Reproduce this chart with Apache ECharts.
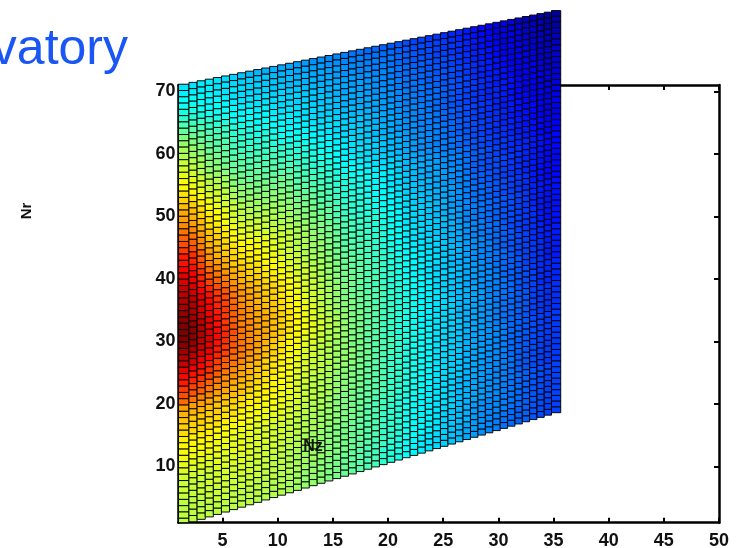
<!DOCTYPE html>
<html><head><meta charset="utf-8"><style>html,body{margin:0;padding:0;background:#fff}#c{width:738px;height:548px}</style>
<script src="https://cdn.jsdelivr.net/npm/echarts@6/dist/echarts.min.js"></script></head><body><div id="c"></div>
<script>
const nzTicks=[5,10,15,20,25,30,35,40,45,50];
const nrTicks=[10,20,30,40,50,60,70];
const heat=[
[35,35,36,36,35,34,33,32,31,31,30,30,29,29,28,28,27,27,26,26,25,24,24,23,23,22,21,21,20,19,19,18,18,17,16,16,15,14,13,12,11,10,9,8,6,5,4,3,3],
[36,36,36,36,35,35,34,33,33,32,32,31,30,30,29,29,28,28,27,27,26,25,25,24,24,23,23,22,21,20,20,19,19,18,17,16,15,14,13,12,11,10,9,8,7,6,5,4,4],
[38,38,37,37,36,35,35,34,33,33,32,32,31,31,30,30,29,29,28,28,27,26,26,25,25,24,24,23,22,21,20,20,19,18,18,17,16,15,14,13,12,11,10,9,8,7,5,4,4],
[39,39,38,37,37,36,35,34,34,33,33,32,32,31,31,30,30,29,29,28,27,27,26,26,25,25,24,23,22,21,21,20,19,19,18,17,16,15,14,13,12,11,10,9,8,7,6,5,5],
[40,40,39,38,38,37,36,35,35,34,34,33,33,32,32,31,31,30,30,29,28,28,27,27,26,26,25,24,23,22,22,21,20,20,19,18,17,16,15,14,13,12,11,10,9,8,7,6,6],
[42,41,40,39,39,38,37,36,36,35,35,34,34,33,33,32,32,31,30,30,29,28,28,27,27,26,25,24,23,23,22,21,21,20,19,18,17,16,15,14,13,12,11,10,9,8,7,6,6],
[45,44,43,42,40,39,38,37,37,36,36,35,34,34,33,33,32,32,31,30,29,29,28,28,27,26,26,25,24,23,23,22,21,21,20,19,18,17,16,15,14,13,12,11,10,9,8,7,7],
[47,46,45,43,42,41,39,38,38,37,37,36,35,35,34,34,33,32,32,31,30,29,29,28,27,27,26,25,24,24,23,22,22,21,20,19,18,17,16,15,14,13,12,11,10,9,8,7,7],
[50,48,47,45,44,43,41,40,39,38,38,37,36,36,35,34,34,33,32,31,30,30,29,29,28,27,27,26,25,24,24,23,22,21,21,20,19,17,16,15,15,14,13,12,11,10,9,8,8],
[52,50,48,46,45,44,42,41,40,39,39,38,37,36,36,35,34,33,33,32,31,31,30,29,29,28,27,26,25,25,24,23,23,22,21,20,19,18,17,16,15,14,13,12,11,10,9,8,8],
[54,52,50,47,46,45,43,42,41,40,40,39,38,37,37,36,35,34,34,33,32,31,31,30,29,28,28,27,25,25,24,24,23,22,21,20,19,18,17,16,15,15,14,13,12,11,10,9,9],
[55,53,51,48,47,46,44,43,42,41,41,40,39,38,38,37,36,35,35,34,33,32,32,31,30,29,28,27,26,26,25,24,23,22,21,20,19,18,17,16,16,15,14,13,12,11,10,9,9],
[57,55,53,50,49,47,45,44,43,42,42,41,40,39,39,38,37,36,35,34,33,33,32,31,30,29,29,28,26,26,25,24,23,22,21,20,19,18,17,16,16,15,14,13,12,11,10,9,9],
[58,56,54,51,50,48,46,45,44,44,43,43,42,41,40,39,38,37,36,35,34,33,33,32,31,30,29,28,27,26,25,25,24,23,22,21,20,19,18,17,16,15,14,13,13,12,11,10,10],
[60,58,55,52,51,49,47,46,45,45,44,44,43,42,41,40,39,38,37,36,35,34,33,32,31,30,29,28,27,27,26,25,24,23,22,21,20,19,18,17,16,15,15,14,13,12,11,10,10],
[62,60,57,54,53,51,48,47,46,46,45,45,44,43,42,41,40,39,38,37,36,35,34,33,32,31,30,29,28,27,26,25,25,24,23,22,21,19,18,17,17,16,15,14,13,13,12,11,11],
[63,61,59,56,55,53,50,48,47,47,46,46,45,44,43,42,41,40,39,38,36,35,35,34,33,32,31,30,28,27,27,26,25,24,23,22,21,20,19,18,17,16,15,14,14,13,12,11,11],
[65,63,60,57,56,54,51,49,48,48,47,47,46,45,44,43,42,41,40,38,37,36,35,34,33,32,31,30,29,28,27,26,25,24,23,22,21,20,19,18,17,16,16,15,14,13,12,11,11],
[67,65,62,59,58,56,53,51,50,49,49,48,48,47,45,44,43,42,41,39,38,37,36,35,34,33,32,31,29,28,27,26,25,25,24,23,22,20,19,18,17,17,16,15,14,14,13,12,12],
[69,67,64,61,59,57,54,52,51,50,50,49,49,48,46,45,44,43,42,40,39,38,37,36,35,34,33,32,30,29,28,27,26,25,24,23,22,21,20,19,18,17,16,15,15,14,13,12,12],
[71,69,66,62,60,58,56,53,52,52,51,51,50,49,47,46,45,44,43,41,40,39,38,37,36,35,34,33,31,30,29,28,27,26,25,24,23,21,20,19,18,18,17,16,15,14,13,12,12],
[72,70,67,64,62,60,57,55,54,53,52,52,51,50,48,47,46,45,44,42,41,40,39,38,37,36,35,33,31,31,30,29,28,27,26,25,23,22,21,20,19,18,17,16,16,15,14,13,13],
[74,72,69,65,63,61,58,56,55,54,54,53,52,51,49,48,47,46,45,43,41,40,39,38,37,36,35,34,32,31,30,29,28,27,26,25,24,22,21,20,19,18,17,17,16,15,14,13,13],
[76,74,70,66,64,62,59,57,56,55,55,54,53,52,50,49,48,46,45,43,41,41,40,39,38,37,35,34,32,31,30,29,29,28,27,26,24,22,21,20,20,19,18,17,16,15,14,13,13],
[78,76,72,68,66,64,61,59,58,57,56,55,54,53,51,50,49,47,46,44,42,41,40,39,38,37,36,35,33,32,31,30,29,28,27,26,24,22,21,20,20,19,18,17,16,15,14,13,13],
[80,78,74,69,67,65,62,60,59,58,57,56,55,54,52,51,50,48,47,45,43,42,41,40,39,38,37,35,33,32,31,30,29,28,27,26,25,23,22,21,20,19,18,17,16,15,14,13,13],
[82,80,75,70,68,66,63,61,60,59,58,57,56,55,53,52,50,49,47,45,43,42,41,40,39,38,37,36,34,33,32,31,30,29,28,26,25,23,22,21,20,19,18,17,16,15,14,13,13],
[85,83,78,72,69,67,65,63,62,61,60,58,57,56,54,53,51,50,48,46,44,43,42,41,40,39,38,36,34,33,32,31,30,29,28,27,25,24,23,22,21,20,19,18,17,15,14,13,13],
[86,84,79,73,70,68,66,64,63,62,61,59,58,57,55,54,52,50,49,47,45,44,43,42,41,40,38,37,35,34,33,32,31,30,28,27,25,24,23,22,21,20,19,18,17,15,14,13,13],
[88,86,81,75,72,70,67,65,64,63,61,60,58,57,55,54,52,51,49,47,45,44,43,42,41,40,38,37,35,34,33,32,31,30,28,27,26,24,23,22,21,20,19,18,17,16,15,14,14],
[90,88,83,77,74,71,68,66,65,64,62,61,59,58,56,55,53,52,50,48,46,45,44,43,41,40,39,37,35,34,33,32,31,30,29,28,26,25,24,23,22,21,20,19,18,16,15,14,14],
[91,89,84,79,76,73,70,68,66,65,63,62,60,58,57,55,53,52,50,48,46,45,44,43,42,41,39,38,36,35,34,33,32,31,29,28,26,25,24,23,22,21,20,19,18,16,15,14,14],
[93,91,86,81,78,75,71,69,67,66,64,63,61,59,58,56,54,53,51,49,47,46,45,44,42,41,39,38,36,35,34,33,32,31,30,28,26,25,24,23,22,21,20,19,18,16,15,14,14],
[94,92,88,84,80,77,73,70,68,67,65,64,62,60,58,57,55,53,51,49,47,46,45,44,42,41,40,38,36,35,34,33,32,31,30,29,27,26,25,23,22,21,20,19,18,17,15,14,14],
[95,94,90,86,82,79,75,72,70,68,66,65,63,61,59,58,56,54,52,50,48,47,46,44,43,42,40,39,37,36,35,34,33,31,30,29,27,26,25,24,23,21,20,19,18,17,15,14,14],
[96,95,91,87,83,80,76,73,71,69,67,66,64,62,60,58,56,54,52,50,48,47,46,45,43,42,41,39,37,36,35,34,33,32,30,29,27,26,25,24,23,22,20,19,18,17,15,14,14],
[98,96,92,88,84,81,77,73,72,70,68,67,65,63,61,59,57,55,53,51,49,48,47,45,44,43,41,40,38,37,36,35,33,32,31,30,28,27,26,24,23,22,21,19,18,17,16,14,14],
[99,97,93,89,85,82,78,74,72,70,68,67,65,63,61,59,57,55,53,51,49,48,47,45,44,43,41,40,38,37,36,35,34,32,31,30,28,27,26,25,23,22,21,20,19,17,16,15,15],
[100,98,94,90,86,82,78,75,73,71,69,68,66,64,62,60,58,56,54,52,50,49,47,46,45,43,42,40,38,37,36,35,34,33,31,30,28,27,26,25,23,22,21,20,19,17,16,15,15],
[100,99,95,90,86,82,78,75,73,71,70,68,66,64,62,60,58,56,54,52,50,48,47,45,44,43,41,40,38,37,36,35,33,32,31,30,29,27,26,25,24,23,21,20,19,18,17,15,15],
[100,99,95,91,87,83,79,75,74,72,71,69,67,65,63,61,59,56,54,52,50,49,48,46,45,44,42,41,39,38,37,35,34,33,32,31,29,28,27,25,24,23,22,20,19,18,17,15,15],
[99,98,94,91,87,84,80,76,74,72,71,69,67,65,63,61,59,57,55,53,51,50,48,47,45,44,42,41,39,38,37,36,34,33,32,31,29,28,27,26,24,23,22,21,19,18,17,15,15],
[97,96,93,90,86,83,79,76,74,72,71,69,67,65,63,61,59,57,55,53,51,50,48,47,45,44,42,41,39,38,37,36,34,33,32,31,29,28,27,26,24,23,22,21,19,18,17,15,15],
[95,94,91,89,85,82,79,76,74,72,71,69,67,65,63,62,60,58,56,54,52,50,49,47,46,44,43,41,40,38,37,36,35,33,32,31,29,28,27,26,25,23,22,21,20,18,17,16,16],
[93,92,89,87,84,81,78,76,74,72,70,68,66,64,63,61,59,58,56,54,52,50,49,47,46,44,43,41,40,39,37,36,35,34,32,31,30,29,27,26,25,24,22,21,20,19,17,16,16],
[90,89,87,85,82,79,77,75,73,71,69,67,65,63,62,60,59,57,55,54,52,50,49,47,46,44,43,41,40,39,37,36,35,34,33,31,30,29,28,26,25,24,23,21,20,19,17,16,16],
[87,86,85,83,80,78,76,74,72,71,69,67,65,63,62,60,59,57,55,54,52,50,49,47,46,44,43,41,40,39,37,36,35,34,33,31,30,29,28,26,25,24,23,21,20,19,17,16,16],
[85,84,83,81,78,76,74,72,70,69,67,66,64,62,61,59,58,56,55,53,52,50,49,47,46,44,43,41,40,39,37,36,35,34,33,31,30,29,28,27,25,24,23,22,21,19,18,17,17],
[82,81,80,78,76,74,73,71,70,68,67,65,64,62,61,59,58,56,55,53,52,50,49,47,46,44,43,41,40,39,37,36,35,34,33,31,30,29,28,27,25,24,23,22,21,19,18,17,17],
[80,79,78,76,74,73,71,70,69,67,66,65,63,62,60,59,57,56,55,53,52,51,49,48,46,45,44,42,41,39,38,37,35,34,33,32,30,29,28,27,25,24,23,22,21,19,18,17,17],
[77,76,75,74,72,71,70,69,68,66,65,64,63,62,60,59,57,56,55,53,52,51,49,48,46,45,44,42,40,39,38,37,35,34,33,32,30,29,28,27,25,24,23,22,21,19,18,17,17],
[72,72,72,71,70,69,69,68,67,65,64,63,62,61,59,58,57,56,54,53,52,51,49,48,46,45,44,42,40,39,38,37,35,34,33,32,30,29,28,27,25,24,23,22,21,19,18,17,17],
[70,70,70,69,68,68,67,66,65,64,64,63,62,61,59,58,56,55,54,52,51,50,49,47,46,45,43,42,40,39,38,37,35,34,33,32,30,29,28,27,26,25,23,22,21,20,19,18,18],
[68,68,68,67,67,66,66,65,64,64,63,62,61,60,59,57,56,55,54,52,51,50,49,47,46,45,43,42,40,39,38,37,35,34,33,32,30,29,28,27,26,25,23,22,21,20,19,18,18],
[67,67,67,66,66,65,65,64,63,63,62,62,61,60,59,57,56,55,54,52,51,50,49,47,46,45,43,42,40,39,38,37,35,34,33,32,30,29,28,27,26,25,23,22,21,20,19,18,18],
[66,66,66,65,65,64,64,63,62,62,61,61,60,59,58,57,56,55,54,52,51,50,49,47,46,45,43,42,40,39,38,37,35,34,33,32,30,29,28,27,26,25,23,22,21,20,19,18,18],
[64,64,64,64,63,63,62,62,62,61,61,60,60,59,58,56,55,54,53,51,50,49,48,47,46,45,43,42,40,39,38,37,35,34,33,32,30,29,28,27,26,25,23,22,21,20,19,18,18],
[63,63,63,63,62,62,61,61,61,60,60,59,59,58,57,56,55,54,53,51,50,49,48,47,46,45,43,42,40,39,38,37,35,34,33,32,30,29,28,27,26,25,23,22,21,20,19,18,18],
[62,62,62,62,61,61,60,60,60,59,59,58,58,57,56,55,54,53,52,51,50,49,48,47,45,44,43,41,40,39,38,37,35,34,33,32,30,29,28,27,26,25,24,22,21,20,19,18,18],
[61,61,61,61,61,60,60,60,60,59,59,58,58,57,56,55,54,53,52,51,50,49,48,46,45,44,43,41,40,39,38,36,35,34,33,31,30,29,28,27,26,25,24,22,21,20,19,18,18],
[60,60,60,60,60,60,60,60,59,59,59,58,58,57,56,55,54,53,52,51,50,49,48,46,45,44,42,41,39,38,37,36,35,34,33,31,30,29,28,27,26,25,24,22,21,20,19,18,18],
[59,59,59,59,60,59,59,59,59,58,58,58,57,56,55,54,53,52,51,50,49,48,47,46,45,43,42,41,39,38,37,36,35,34,33,31,30,29,28,27,26,25,24,23,22,21,20,19,19],
[58,58,58,58,59,59,59,59,58,58,58,57,57,56,55,54,53,52,51,50,49,48,47,46,45,43,42,41,39,38,37,36,35,34,33,31,30,29,28,27,26,25,24,23,22,21,20,19,19],
[57,57,57,57,58,58,58,58,58,57,57,56,56,55,54,53,53,52,51,50,49,48,47,46,45,43,42,41,39,38,37,36,35,34,33,31,30,29,28,27,26,25,24,23,22,21,20,19,19],
[57,57,57,58,58,58,58,58,58,57,57,56,56,55,54,53,53,52,51,50,49,48,47,46,45,43,42,41,39,38,37,36,35,33,32,31,30,28,27,26,26,25,24,23,22,21,20,19,19],
[57,57,57,57,57,57,57,57,57,57,56,56,56,55,54,53,53,52,51,50,49,48,47,46,44,43,42,41,39,38,37,36,35,33,32,31,30,28,27,26,26,25,24,23,22,21,20,19,19],
[56,56,56,57,57,57,57,57,57,56,56,56,55,55,54,53,52,51,50,49,48,47,46,45,44,43,42,40,39,38,37,36,35,33,32,31,30,28,27,26,26,25,24,23,22,21,20,19,19],
[56,56,56,56,57,57,56,56,56,56,56,55,55,54,53,52,52,51,50,49,48,47,46,45,44,42,41,40,38,37,36,35,34,33,32,31,29,28,27,26,25,24,23,22,22,21,20,19,19],
[56,56,56,56,56,56,56,56,56,56,55,55,55,54,53,52,52,51,50,49,48,47,46,45,44,42,41,40,38,37,36,35,34,33,32,31,29,28,27,26,25,24,23,22,22,21,20,19,19],
[56,56,56,56,56,56,56,56,56,55,55,55,55,54,53,52,52,51,50,49,48,47,46,45,44,42,41,40,38,37,36,35,34,33,32,31,29,28,27,26,25,24,23,22,22,21,20,19,19]
];
const titleText='vatory', nzName='Nz', nrName='Nr';

// column edges along the Nz scale (first and last columns are seen a little wider)
const rowCount=heat.length, colCount=heat[0].length;
const span=34.65, raw=[];
for(let i=0;i<colCount;i++){raw.push(i===0?0.95:i===colCount-1?0.84:0.745-0.085*i/(colCount-1));}
const rawSum=raw.reduce((a,b)=>a+b,0);
const edges=[1];
raw.forEach(w=>edges.push(edges[edges.length-1]+w*span/rawSum));
// the sheet's tilted lower and upper rims on the Nr scale
const lowerRim=x=>0.45+0.53*(x-1), upperRim=x=>70.96+0.349*(x-1);

const cells=[];
heat.forEach((row,i)=>row.forEach((v,c)=>cells.push([c,rowCount-1-i,v])));

const tickFont={fontFamily:'"Liberation Sans",Arial,sans-serif',fontWeight:'bold',fontSize:18,color:'#111'};
const line={lineStyle:{color:'#000',width:2.5}};
const tick={inside:true,length:5,lineStyle:{color:'#000',width:2}};
const chart=echarts.init(document.getElementById('c'),null,{renderer:'canvas'});
chart.setOption({
 animation:false,
 grid:{left:178.5,top:85,width:540.5,height:437.7,containLabel:false,outerBoundsMode:'none'},
 xAxis:[
  {type:'value',min:1,max:50,position:'bottom',axisLine:{show:true,...line},axisTick:{show:true,...tick,customValues:nzTicks},axisLabel:{...tickFont,margin:9,customValues:nzTicks},splitLine:{show:false}},
  {type:'value',min:1,max:50,position:'top',axisLine:{show:true,onZero:false,...line},axisTick:{show:true,...tick,customValues:nzTicks},axisLabel:{show:false},splitLine:{show:false}}
 ],
 yAxis:[
  {type:'value',min:1,max:71,position:'left',axisLine:{show:true,onZero:false,...line},axisTick:{show:true,...tick,customValues:nrTicks},axisLabel:{...tickFont,margin:3,customValues:nrTicks},splitLine:{show:false}},
  {type:'value',min:1,max:71,position:'right',axisLine:{show:true,onZero:false,...line},axisTick:{show:true,...tick,customValues:nrTicks},axisLabel:{show:false},splitLine:{show:false}}
 ],
 visualMap:{show:false,type:'continuous',seriesIndex:0,dimension:2,min:0,max:100,
  inRange:{color:['#00007f','#0000ff','#007fff','#00ffff','#7fff7f','#ffff00','#ff7f00','#ff0000','#7f0000']}},
 series:[{
  type:'custom',coordinateSystem:'cartesian2d',data:cells,encode:{x:0,y:1},clip:false,silent:true,z:5,
  renderItem(params,api){
   const c=api.value(0), r=api.value(1);
   const x0=edges[c], x1=edges[c+1], xm=(x0+x1)/2;
   const lo=lowerRim(xm), hi=upperRim(xm);
   const y0=Math.max(1,lo+(hi-lo)*r/rowCount), y1=lo+(hi-lo)*(r+1)/rowCount;
   const a=api.coord([x0,y1]), b=api.coord([x1,y0]);
   return {type:'rect',shape:{x:a[0],y:a[1],width:b[0]-a[0],height:b[1]-a[1]},
    style:{fill:api.visual('color'),stroke:'rgba(0,0,0,0.95)',lineWidth:1}};
  }
 }],
 graphic:[
  {type:'text',x:128,y:50,z:20,style:{text:titleText,fill:'#1a56f5',font:'50px "Liberation Sans",Arial,sans-serif',textAlign:'right',textVerticalAlign:'middle'}},
  {type:'text',x:27,y:211,rotation:Math.PI/2,z:20,style:{text:nrName,fill:'#111',font:'bold 15px "Liberation Sans",Arial,sans-serif',textAlign:'center',textVerticalAlign:'middle'}},
  {type:'text',x:313,y:447,z:20,style:{text:nzName,fill:'#111',font:'bold 16px "Liberation Sans",Arial,sans-serif',textAlign:'center',textVerticalAlign:'middle'}}
 ]
});
</script></body></html>
